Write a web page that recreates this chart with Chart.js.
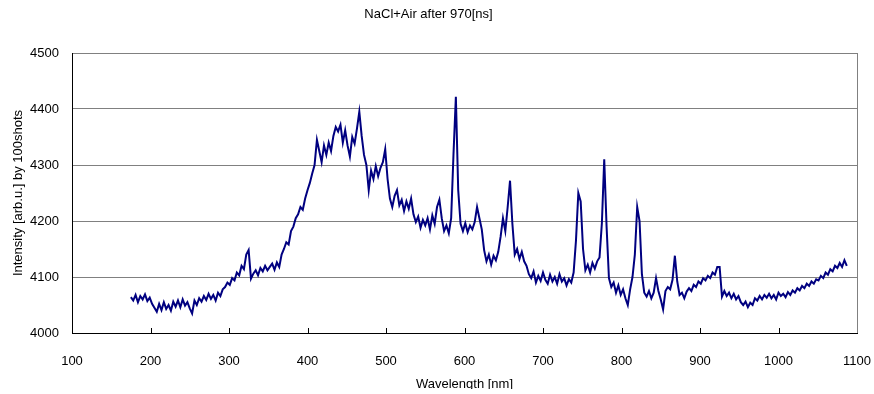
<!DOCTYPE html>
<html>
<head>
<meta charset="utf-8">
<script src="https://cdn.jsdelivr.net/npm/chart.js@4.4.0/dist/chart.umd.min.js"></script>
<style>
  html, body { margin: 0; padding: 0; background: #fff; }
  #wrap { width: 874px; height: 389px; overflow: hidden; }
</style>
</head>
<body>
<div id="wrap"><canvas id="spectrum-chart" width="874" height="389"></canvas></div>
<script>
// Wavelength [nm]
var wavelength = [
    175, 178, 181, 184, 187, 190, 193, 196, 199, 202,
    205, 208, 211, 214, 217, 220, 223, 226, 229, 232,
    235, 238, 241, 244, 247, 250, 253, 256, 259, 262,
    265, 268, 271, 274, 277, 280, 283, 286, 289, 292,
    295, 298, 301, 304, 307, 310, 313, 316, 319, 322,
    325, 328, 331, 334, 337, 340, 343, 346, 349, 352,
    355, 358, 361, 364, 367, 370, 373, 376, 379, 382,
    385, 388, 391, 394, 397, 400, 403, 406, 409, 412,
    415, 418, 421, 424, 427, 430, 433, 436, 439, 442,
    445, 448, 451, 454, 457, 460, 463, 466, 469, 472,
    475, 478, 481, 484, 487, 490, 493, 496, 499, 502,
    505, 508, 511, 514, 517, 520, 523, 526, 529, 532,
    535, 538, 541, 544, 547, 550, 553, 556, 559, 562,
    565, 568, 571, 574, 577, 580, 583, 586, 589, 592,
    595, 598, 601, 604, 607, 610, 613, 616, 619, 622,
    625, 628, 631, 634, 637, 640, 643, 646, 649, 652,
    655, 658, 661, 664, 667, 670, 673, 676, 679, 682,
    685, 688, 691, 694, 697, 700, 703, 706, 709, 712,
    715, 718, 721, 724, 727, 730, 733, 736, 739, 742,
    745, 748, 751, 754, 757, 760, 763, 766, 769, 772,
    775, 778, 781, 784, 787, 790, 793, 796, 799, 802,
    805, 808, 811, 814, 817, 820, 823, 826, 829, 832,
    835, 838, 841, 844, 847, 850, 853, 856, 859, 862,
    865, 868, 871, 874, 877, 880, 883, 886, 889, 892,
    895, 898, 901, 904, 907, 910, 913, 916, 919, 922,
    925, 928, 931, 934, 937, 940, 943, 946, 949, 952,
    955, 958, 961, 964, 967, 970, 973, 976, 979, 982,
    985, 988, 991, 994, 997, 1000, 1003, 1006, 1009, 1012,
    1015, 1018, 1021, 1024, 1027, 1030, 1033, 1036, 1039, 1042,
    1045, 1048, 1051, 1054, 1057, 1060, 1063, 1066, 1069, 1072,
    1075, 1078, 1081, 1084, 1087
];

// Intensity [arb.u.] by 100shots
var intensity = [
    4064, 4058, 4068, 4055, 4066, 4060, 4069, 4057, 4063, 4052,
    4045, 4038, 4052, 4041, 4055, 4043, 4050, 4040, 4056, 4047,
    4058, 4046, 4060, 4049, 4055, 4044, 4035, 4058, 4050, 4062,
    4056, 4066, 4059, 4070, 4061, 4068, 4058, 4072, 4066, 4078,
    4082, 4090, 4086, 4098, 4094, 4108, 4103, 4120, 4114, 4140,
    4148, 4097, 4106, 4112, 4103, 4116, 4110, 4120, 4112, 4118,
    4124, 4113, 4126, 4118, 4140, 4150, 4162, 4158, 4182, 4190,
    4205, 4212, 4225, 4220, 4240, 4255, 4268, 4285, 4300, 4345,
    4325, 4305, 4335, 4318, 4340, 4325, 4352, 4368, 4360, 4372,
    4340, 4362, 4335, 4315, 4350, 4338, 4365, 4395, 4352, 4318,
    4300, 4255, 4290, 4275, 4298, 4280, 4295, 4305, 4328, 4275,
    4240, 4225, 4245, 4255, 4228, 4238, 4218, 4235, 4222, 4240,
    4212, 4198, 4208, 4188, 4202, 4192, 4205, 4185, 4210, 4195,
    4225, 4238, 4205, 4182, 4192, 4178, 4205, 4320, 4422, 4255,
    4195, 4182, 4196, 4180, 4192, 4185, 4198, 4225, 4205, 4185,
    4148, 4128, 4140, 4122, 4138, 4130, 4145, 4172, 4205, 4182,
    4225, 4272, 4195, 4140, 4150, 4132, 4145, 4128, 4120, 4105,
    4098, 4110, 4090, 4102, 4093, 4108, 4095, 4088, 4104, 4092,
    4100, 4088, 4105, 4092, 4098, 4085, 4096, 4090, 4108, 4165,
    4250, 4235, 4150, 4112, 4122, 4108, 4125, 4115, 4128, 4135,
    4196, 4310, 4190, 4098, 4082, 4090, 4072, 4085, 4068, 4078,
    4062, 4050, 4078, 4100, 4140, 4225, 4200, 4105, 4072, 4065,
    4075, 4062, 4072, 4098, 4075, 4060, 4042, 4075, 4082, 4078,
    4095, 4138, 4092, 4068, 4072, 4062, 4074, 4080, 4075, 4086,
    4082, 4092, 4088, 4098, 4094, 4102, 4098, 4108, 4104, 4118,
    4118, 4065, 4075, 4066, 4072, 4062, 4070, 4060, 4066, 4055,
    4050, 4056, 4046, 4054, 4050, 4062, 4058, 4066, 4060, 4068,
    4063, 4070, 4062, 4068, 4060, 4072, 4066, 4070, 4064, 4073,
    4068, 4076, 4072, 4080, 4076, 4084, 4080, 4088, 4084, 4092,
    4088, 4096, 4094, 4102, 4098, 4108, 4104, 4114, 4110, 4120,
    4116, 4125, 4118, 4130, 4120
];

var xTicks = [100, 200, 300, 400, 500, 600, 700, 800, 900, 1000, 1100];

// inside tick marks on the x axis and the right frame line
var frameTicks = {
    id: 'frameTicks',
    afterDraw: function (chart) {
        var ctx = chart.ctx;
        var area = chart.chartArea;
        var xs = chart.scales.x;
        ctx.save();
        ctx.lineWidth = 1;
        ctx.strokeStyle = '#000000';
        xTicks.forEach(function (v) {
            var px = Math.round(xs.getPixelForValue(v)) + 0.5;
            ctx.beginPath();
            ctx.moveTo(px, area.bottom - 5);
            ctx.lineTo(px, area.bottom);
            ctx.stroke();
        });
        ctx.strokeStyle = '#808080';
        ctx.beginPath();
        ctx.moveTo(Math.round(area.right) + 0.5, area.top);
        ctx.lineTo(Math.round(area.right) + 0.5, area.bottom);
        ctx.stroke();
        ctx.restore();
    }
};

var ctx = document.getElementById('spectrum-chart').getContext('2d');

var chartData = {
    datasets: [{
        label: 'NaCl+Air after 970[ns]',
        data: wavelength.map(function (w, i) { return { x: w, y: intensity[i] }; }),
        borderColor: '#000080',
        borderWidth: 2,
        pointRadius: 0,
        tension: 0,
        fill: false
    }]
};

var chartOptions = {
    responsive: false,
    animation: false,
    devicePixelRatio: 1,
    layout: { padding: { top: 0, right: 17, bottom: 0, left: 0 } },
    plugins: {
        legend: { display: false },
        tooltip: { enabled: false },
        title: {
            display: true,
            text: 'NaCl+Air after 970[ns]',
            color: '#000000',
            font: { family: 'Liberation Sans, Arial, sans-serif', size: 13, weight: 'normal' },
            padding: { top: 7, bottom: 30.4 }
        }
    },
    scales: {
        x: {
            type: 'linear',
            min: 100,
            max: 1100,
            afterFit: function (scale) {
                scale.height = 56;
                scale.paddingLeft = 0;
                scale.paddingRight = 0;
            },
            afterBuildTicks: function (scale) {
                scale.ticks = xTicks.map(function (v) { return { value: v }; });
            },
            ticks: {
                color: '#000000',
                padding: 21,
                maxRotation: 0,
                font: { family: 'Liberation Sans, Arial, sans-serif', size: 13 },
                callback: function (value) { return value; }
            },
            grid: { display: false, drawTicks: false },
            border: { display: true, color: '#000000', width: 1 },
            title: {
                display: true,
                text: 'Wavelength [nm]',
                color: '#000000',
                font: { family: 'Liberation Sans, Arial, sans-serif', size: 13 },
                padding: { top: 0, bottom: -3 }
            }
        },
        y: {
            min: 4000,
            max: 4500,
            afterFit: function (scale) { scale.width = 72; },
            ticks: {
                stepSize: 100,
                color: '#000000',
                padding: 13,
                font: { family: 'Liberation Sans, Arial, sans-serif', size: 13 },
                callback: function (value) { return value; }
            },
            grid: { color: '#808080', lineWidth: 1, drawTicks: false },
            border: { display: true, color: '#000000', width: 1 },
            title: {
                display: true,
                text: 'Intensity [arb.u.] by 100shots',
                color: '#000000',
                font: { family: 'Liberation Sans, Arial, sans-serif', size: 13 },
                padding: { top: 11, bottom: 0 }
            }
        }
    }
};

var spectrumChart = new Chart(ctx, {
    type: 'line',
    data: chartData,
    options: chartOptions,
    plugins: [frameTicks]
});
</script>
</body>
</html>
